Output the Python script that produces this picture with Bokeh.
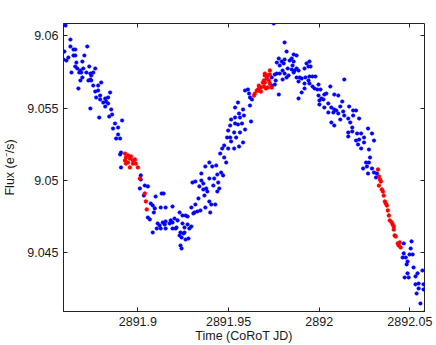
from bokeh.plotting import figure
from bokeh.models import Range1d, LinearAxis, FixedTicker, CustomJSTickFormatter
from bokeh.embed import file_html
from bokeh.resources import INLINE

# ---- data ----
blue_time = [
    2891.8601, 2891.8628, 2891.8595, 2891.8628, 2891.8645, 2891.8655, 2891.8721, 2891.8590, 2891.8606, 2891.8617,
    2891.8645, 2891.8655, 2891.8705, 2891.8694, 2891.8661, 2891.8655, 2891.8666, 2891.8683, 2891.8699, 2891.8732,
    2891.8765, 2891.8634, 2891.8677, 2891.8688, 2891.8716, 2891.8738, 2891.8754, 2891.8743, 2891.8694, 2891.8683,
    2891.8727, 2891.8738, 2891.8743, 2891.8798, 2891.8754, 2891.8781, 2891.8672, 2891.8765, 2891.8781, 2891.8847,
    2891.8792, 2891.8770, 2891.8792, 2891.8820, 2891.8836, 2891.8809, 2891.8825, 2891.8836, 2891.8820, 2891.8738,
    2891.8853, 2891.8858, 2891.8842, 2891.8787, 2891.8913, 2891.8874, 2891.8863, 2891.8891, 2891.8891, 2891.8880,
    2891.8902, 2891.8907, 2891.8902, 2891.8907, 2891.9016, 2891.9016, 2891.9038, 2891.9055, 2891.9011, 2891.9033,
    2891.9098, 2891.9131, 2891.9142, 2891.9071, 2891.9082, 2891.9093, 2891.9126, 2891.9153, 2891.9191, 2891.9088,
    2891.9055, 2891.9066, 2891.9109, 2891.9137, 2891.9153, 2891.9181, 2891.9202, 2891.9230, 2891.9263, 2891.9120,
    2891.9148, 2891.9175, 2891.9191, 2891.9219, 2891.9246, 2891.9104, 2891.9126, 2891.9153, 2891.9191, 2891.9208,
    2891.9082, 2891.9230, 2891.9252, 2891.9241, 2891.9263, 2891.9235, 2891.9241, 2891.9246, 2891.9274, 2891.9213,
    2891.9274, 2891.9295, 2891.9284, 2891.9257, 2891.9235, 2891.9257, 2891.9279,
    2891.9295, 2891.9312, 2891.9328, 2891.9345, 2891.9306, 2891.9317, 2891.9334, 2891.9372, 2891.9399, 2891.9394,
    2891.9405, 2891.9427, 2891.9301, 2891.9317, 2891.9350, 2891.9361, 2891.9339, 2891.9361, 2891.9377, 2891.9383,
    2891.9367, 2891.9438, 2891.9449, 2891.9416, 2891.9443, 2891.9394, 2891.9421, 2891.9350, 2891.9438, 2891.9459,
    2891.9470, 2891.9372, 2891.9394, 2891.9410, 2891.9432, 2891.9454, 2891.9465, 2891.9476, 2891.9487, 2891.9498,
    2891.9531, 2891.9558, 2891.9580, 2891.9476, 2891.9492, 2891.9509, 2891.9514, 2891.9531, 2891.9563, 2891.9498,
    2891.9749, 2891.9542, 2891.9591, 2891.9509, 2891.9536, 2891.9552, 2891.9574, 2891.9514, 2891.9536, 2891.9563,
    2891.9585, 2891.9624, 2891.9558, 2891.9580, 2891.9618, 2891.9536, 2891.9552, 2891.9591, 2891.9607, 2891.9618,
    2891.9629, 2891.9613,
    2891.9738, 2891.9755, 2891.9777, 2891.9760, 2891.9738, 2891.9755, 2891.9766, 2891.9782, 2891.9798, 2891.9809,
    2891.9820, 2891.9831, 2891.9848, 2891.9826, 2891.9864, 2891.9886, 2891.9798, 2891.9804, 2891.9793, 2891.9766,
    2891.9782, 2891.9777, 2891.9809, 2891.9837, 2891.9859, 2891.9875, 2891.9859, 2891.9853, 2891.9820, 2891.9809,
    2891.9892, 2891.9886, 2891.9919, 2891.9930, 2891.9941, 2891.9946, 2891.9903, 2891.9919, 2891.9924, 2891.9941,
    2891.9848, 2891.9875, 2891.9859, 2891.9875, 2891.9886, 2891.9952, 2891.9919, 2891.9903, 2891.9946, 2891.9963,
    2891.9979, 2891.9946, 2891.9963, 2891.9974, 2891.9990, 2891.9996, 2891.9996, 2892.0007, 2892.0012, 2892.0001,
    2892.0023, 2892.0028, 2892.0039, 2892.0061, 2892.0083, 2892.0105, 2892.0138, 2892.0050, 2892.0067, 2892.0083,
    2892.0028, 2892.0001, 2892.0050, 2892.0078, 2892.0094, 2892.0105, 2892.0116, 2892.0127, 2892.0132, 2892.0138,
    2892.0165, 2892.0187, 2892.0203, 2892.0187, 2892.0220, 2892.0160, 2892.0171, 2892.0116, 2892.0067, 2892.0083,
    2892.0182, 2892.0182, 2892.0160, 2892.0160, 2892.0209, 2892.0231, 2892.0220, 2892.0203, 2892.0247, 2892.0247,
    2892.0214, 2892.0231, 2892.0269, 2892.0291, 2892.0302, 2892.0274,
    2892.0280, 2892.0258, 2892.0274, 2892.0263, 2892.0242, 2892.0291, 2892.0269, 2892.0302, 2892.0318, 2892.0313,
    2892.0466, 2892.0509, 2892.0504, 2892.0466, 2892.0460, 2892.0477, 2892.0498, 2892.0515, 2892.0487, 2892.0482,
    2892.0520, 2892.0487, 2892.0471, 2892.0493, 2892.0531, 2892.0542, 2892.0569, 2892.0531, 2892.0548, 2892.0575,
    2892.0548, 2892.0575, 2892.0537, 2892.0558, 2892.0580,
]
blue_flux = [
    9.06071, 9.05974, 9.05891, 9.05926, 9.05905, 9.05905, 9.05926, 9.05836, 9.05829, 9.05850,
    9.05864, 9.05864, 9.05864, 9.05822, 9.05815, 9.05788, 9.05774, 9.05760, 9.05774, 9.05788,
    9.05774, 9.05746, 9.05746, 9.05746, 9.05746, 9.05739, 9.05746, 9.05726, 9.05712, 9.05691,
    9.05691, 9.05698, 9.05691, 9.05677, 9.05656, 9.05656, 9.05636, 9.05615, 9.05622, 9.05608,
    9.05587, 9.05574, 9.05560, 9.05567, 9.05574, 9.05539, 9.05546, 9.05532, 9.05511, 9.05498,
    9.05491, 9.05456, 9.05442, 9.05435, 9.05415, 9.05394, 9.05359, 9.05366, 9.05318, 9.05290,
    9.05290, 9.05193, 9.05180, 9.05090, 9.05035, 9.05007, 9.04965, 9.04959, 9.04945, 9.04896,
    9.04889, 9.04910, 9.04910, 9.04841, 9.04827, 9.04807, 9.04813, 9.04813, 9.04820, 9.04779,
    9.04744, 9.04731, 9.04703, 9.04710, 9.04717, 9.04724, 9.04737, 9.04779, 9.04758, 9.04689,
    9.04696, 9.04703, 9.04710, 9.04724, 9.04703, 9.04668, 9.04668, 9.04668, 9.04668, 9.04668,
    9.04641, 9.04620, 9.04634, 9.04606, 9.04592, 9.04551, 9.04530, 9.04758, 9.04751, 9.04675,
    9.04696, 9.04682, 9.04668, 9.04675, 9.04641, 9.04641, 9.04599,
    9.04813, 9.04779, 9.04786, 9.04793, 9.04772, 9.04834, 9.04876, 9.04813, 9.04779, 9.04855,
    9.04834, 9.04834, 9.04986, 9.04993, 9.05000, 9.04979, 9.04959, 9.04938, 9.04945, 9.04924,
    9.04896, 9.04924, 9.04945, 9.04965, 9.04986, 9.05014, 9.05014, 9.05048, 9.05041, 9.05055,
    9.05035, 9.05097, 9.05124, 9.05097, 9.05104, 9.05186, 9.05221, 9.05159, 9.05124, 9.05221,
    9.05221, 9.05235, 9.05263, 9.05242, 9.05297, 9.05297, 9.05270, 9.05332, 9.05332, 9.05345,
    9.06085, 9.05297, 9.05352, 9.05380, 9.05394, 9.05387, 9.05394, 9.05421, 9.05435, 9.05435,
    9.05449, 9.05408, 9.05463, 9.05491, 9.05518, 9.05504, 9.05539, 9.05622, 9.05629, 9.05574,
    9.05560, 9.05601,
    9.05656, 9.05663, 9.05594, 9.05691, 9.05712, 9.05732, 9.05739, 9.05739, 9.05698, 9.05739,
    9.05712, 9.05726, 9.05767, 9.05774, 9.05760, 9.05760, 9.05760, 9.05809, 9.05822, 9.05815,
    9.05795, 9.05843, 9.05836, 9.05829, 9.05822, 9.05864, 9.05871, 9.05795, 9.05891, 9.05954,
    9.05712, 9.05567, 9.05774, 9.05809, 9.05788, 9.05822, 9.05705, 9.05636, 9.05712, 9.05691,
    9.05843, 9.05774, 9.05746, 9.05712, 9.05684, 9.05788, 9.05670, 9.05608, 9.05719, 9.05719,
    9.05719, 9.05670, 9.05650, 9.05636, 9.05629, 9.05663, 9.05587, 9.05629, 9.05567, 9.05553,
    9.05560, 9.05594, 9.05601, 9.05650, 9.05594, 9.05587, 9.05698, 9.05532, 9.05504, 9.05491,
    9.05504, 9.05525, 9.05470, 9.05470, 9.05484, 9.05463, 9.05511, 9.05546, 9.05477, 9.05449,
    9.05511, 9.05484, 9.05484, 9.05449, 9.05428, 9.05428, 9.05401, 9.05421, 9.05401, 9.05380,
    9.05366, 9.05339, 9.05332, 9.05304, 9.05325, 9.05325, 9.05283, 9.05276, 9.05297, 9.05263,
    9.05249, 9.05221, 9.05359, 9.05325, 9.05276, 9.05214,
    9.05159, 9.05124, 9.05124, 9.05097, 9.05083, 9.05083, 9.05048, 9.05055, 9.05048, 9.05021,
    9.04565, 9.04579, 9.04530, 9.04496, 9.04468, 9.04468, 9.04489, 9.04489, 9.04440, 9.04420,
    9.04399, 9.04358, 9.04330, 9.04330, 9.04337, 9.04358, 9.04378, 9.04282, 9.04288, 9.04282,
    9.04254, 9.04247, 9.04219, 9.04150, 9.04088,
]

red_time = [
    2891.8929, 2891.8934, 2891.8945, 2891.8956, 2891.8962, 2891.8973, 2891.8984, 2891.8934, 2891.8956, 2891.8989,
    2891.9000, 2891.8929, 2891.8945, 2891.8973, 2891.9011, 2891.9038, 2891.9044, 2891.9049,
    2891.9640, 2891.9645, 2891.9656, 2891.9667, 2891.9678, 2891.9695, 2891.9706, 2891.9716, 2891.9728, 2891.9722,
    2891.9700, 2891.9689, 2891.9716, 2891.9700, 2891.9728, 2891.9728, 2891.9711, 2891.9738, 2891.9667, 2891.9662,
    2891.9695, 2891.9678, 2891.9700,
    2892.0324, 2892.0329, 2892.0335, 2892.0340, 2892.0329, 2892.0345, 2892.0351, 2892.0356, 2892.0362, 2892.0367,
    2892.0373, 2892.0378, 2892.0384, 2892.0389, 2892.0400, 2892.0405, 2892.0411, 2892.0411, 2892.0416, 2892.0422,
    2892.0433, 2892.0438, 2892.0444, 2892.0449,
]
red_flux = [
    9.05186, 9.05159, 9.05173, 9.05152, 9.05166, 9.05138, 9.05145, 9.05117, 9.05090, 9.05117,
    9.05090, 9.05138, 9.05124, 9.05117, 9.05014, 9.04910, 9.04855, 9.04800,
    9.05587, 9.05601, 9.05622, 9.05636, 9.05643, 9.05650, 9.05636, 9.05643, 9.05670, 9.05691,
    9.05677, 9.05677, 9.05726, 9.05726, 9.05732, 9.05760, 9.05705, 9.05643, 9.05656, 9.05622,
    9.05691, 9.05615, 9.05739,
    9.05076, 9.05028, 9.05007, 9.04993, 9.04965, 9.04938, 9.04924, 9.04896, 9.04855, 9.04841,
    9.04827, 9.04793, 9.04758, 9.04724, 9.04710, 9.04696, 9.04682, 9.04661, 9.04620, 9.04613,
    9.04565, 9.04551, 9.04572, 9.04537,
]

x_ticks = [2891.9, 2891.95, 2892.0, 2892.05]
y_ticks = [9.045, 9.05, 9.055, 9.06]
x_label = "Time (CoRoT JD)"
y_label = "Flux (e\u207b/s)"

FONT = "Liberation Sans"
FS = "12.5px"
TXT = "#1a1a1a"

p = figure(width=436, height=345, output_backend="svg", toolbar_location=None,
           x_range=Range1d(2891.85899, 2892.05804), y_range=Range1d(9.040945, 9.06085),
           min_border_left=60, min_border_right=12, min_border_top=23, min_border_bottom=34)
p.background_fill_color = "white"
p.border_fill_color = "white"
p.outline_line_color = "#222222"
p.outline_line_width = 1
p.xgrid.visible = False
p.ygrid.visible = False

fmt = CustomJSTickFormatter(code="return Number(tick.toFixed(4)).toString();")
blank = CustomJSTickFormatter(code="return '';")

for ax, ticks in ((p.xaxis[0], x_ticks), (p.yaxis[0], y_ticks)):
    ax.ticker = FixedTicker(ticks=ticks, minor_ticks=[])
    ax.formatter = fmt
    ax.major_tick_in = 4
    ax.major_tick_out = 0
    ax.minor_tick_in = 0
    ax.minor_tick_out = 0
    ax.major_tick_line_color = "#222222"
    ax.axis_line_color = "#222222"
    ax.major_label_text_font = FONT
    ax.major_label_text_font_size = FS
    ax.major_label_text_color = TXT
    ax.axis_label_text_font = FONT
    ax.axis_label_text_font_size = FS
    ax.axis_label_text_font_style = "normal"
    ax.axis_label_text_color = TXT

p.xaxis[0].axis_label = x_label
p.xaxis[0].major_label_standoff = 5
p.xaxis[0].axis_label_standoff = 0
p.yaxis[0].axis_label = y_label
p.yaxis[0].major_label_standoff = 5
p.yaxis[0].axis_label_standoff = 7

for loc, ticks in (("above", x_ticks), ("right", y_ticks)):
    ax = LinearAxis(ticker=FixedTicker(ticks=ticks, minor_ticks=[]), formatter=blank,
                    major_label_standoff=0,
                    major_tick_in=4, major_tick_out=0, minor_tick_in=0, minor_tick_out=0,
                    major_tick_line_color="#222222", axis_line_color=None)
    p.add_layout(ax, loc)

p.scatter(blue_time, blue_flux, size=3.6, fill_color="#0000ff", line_color="#0000ff", line_width=0.5)
p.scatter(red_time, red_flux, size=3.8, fill_color="#ff0000", line_color="#ff0000", line_width=0.5)

open("out.html", "w").write(file_html(p, INLINE))
